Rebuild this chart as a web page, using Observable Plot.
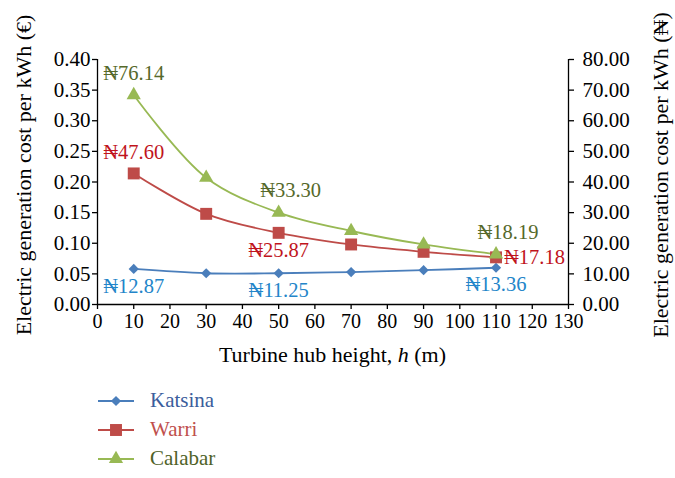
<!DOCTYPE html>
<html>
<head>
<meta charset="utf-8">
<script src="https://cdn.jsdelivr.net/npm/d3@7"></script>
<script src="https://cdn.jsdelivr.net/npm/@observablehq/plot@0.6"></script>
<style>
  body { margin: 0; background: #fff; font-family: "Liberation Serif", serif; }
  #wrap { position: relative; width: 675px; height: 478px; overflow: hidden; }
  #legend { position: absolute; left: 96px; top: 386px; font-size: 21px; }
  .row { display: flex; align-items: center; height: 29px; }
  .row svg { margin-right: 14px; }
</style>
</head>
<body>
<div id="wrap"><div id="chart"></div><div id="legend"></div></div>
<script>
// ---- data ----
const heights = [10, 30, 50, 70, 90, 110];
const katsina = [0.058, 0.051, 0.051, 0.053, 0.056, 0.060];
const warri   = [0.214, 0.148, 0.117, 0.098, 0.086, 0.077];
const calabar = [0.342, 0.207, 0.150, 0.120, 0.098, 0.082];
const seriesNames = ["Katsina", "Warri", "Calabar"];
// naira data labels (x, text)
const katsinaLabelX = [10, 50, 110];
const katsinaLabelText = ["₦12.87", "₦11.25", "₦13.36"];
const warriLabelX = [10, 50, 110];
const warriLabelText = ["₦47.60", "₦25.87", "₦17.18"];
const calabarLabelX = [10, 50, 110];
const calabarLabelText = ["₦76.14", "₦33.30", "₦18.19"];
const leftTicks = [0, 0.05, 0.10, 0.15, 0.20, 0.25, 0.30, 0.35, 0.40];
const rightTicks = [0, 10, 20, 30, 40, 50, 60, 70, 80];
const xTicks = [0, 10, 20, 30, 40, 50, 60, 70, 80, 90, 100, 110, 120, 130];
const euroToAxis = 200; // right axis: 0.40 € ↔ 80 ₦

// ---- styles ----
const lineColors = {Katsina: "#4a7ebb", Warri: "#be4b48", Calabar: "#98b954"};
const labelColors = {Katsina: "#2385c9", Warri: "#c0141c", Calabar: "#56692b"};
const legendTextColors = {Katsina: "#3b5d9c", Warri: "#c0504d", Calabar: "#4f6228"};
const symbols = {Katsina: "diamond2", Warri: "square2", Calabar: "triangle2"};
const radii = {Katsina: 4.6, Warri: 7.6, Calabar: 6.8};

const valuesBy = {Katsina: katsina, Warri: warri, Calabar: calabar};
const rows = seriesNames.flatMap(s => heights.map((h, i) => ({series: s, x: h, y: valuesBy[s][i]})));

function labelRows(s, xs, texts) {
  return xs.map((x, i) => ({series: s, x, y: valuesBy[s][heights.indexOf(x)], text: texts[i]}));
}
const kL = labelRows("Katsina", katsinaLabelX, katsinaLabelText);
const wL = labelRows("Warri", warriLabelX, warriLabelText);
const cL = labelRows("Calabar", calabarLabelX, calabarLabelText);

const marks = [];
for (const s of seriesNames) {
  const d = rows.filter(r => r.series === s);
  marks.push(Plot.line(d, {x: "x", y: "y", stroke: lineColors[s], strokeWidth: 1.8, curve: "catmull-rom"}));
}
for (const s of seriesNames) {
  const d = rows.filter(r => r.series === s);
  marks.push(Plot.dot(d, {x: "x", y: "y", symbol: symbols[s], r: radii[s], fill: lineColors[s], stroke: "none"}));
}
// data labels
const lf = 20.5;
marks.push(Plot.text(kL, {x: "x", y: "y", text: "text", fill: labelColors.Katsina, dy: 17, fontSize: lf}));
marks.push(Plot.text(wL.slice(0, 1), {x: "x", y: "y", text: "text", fill: labelColors.Warri, dy: -21, fontSize: lf}));
marks.push(Plot.text(wL.slice(1, 2), {x: "x", y: "y", text: "text", fill: labelColors.Warri, dy: 18, fontSize: lf}));
marks.push(Plot.text(wL.slice(2, 3), {x: "x", y: "y", text: "text", fill: labelColors.Warri, dx: 8, textAnchor: "start", fontSize: lf}));
marks.push(Plot.text(cL.slice(0, 1), {x: "x", y: "y", text: "text", fill: labelColors.Calabar, dy: -22, fontSize: lf}));
marks.push(Plot.text(cL.slice(1, 3), {x: "x", y: "y", text: "text", fill: labelColors.Calabar, dx: 12, dy: -22, fontSize: lf}));

// axes
marks.push(Plot.ruleX([0], {stroke: "#000", strokeWidth: 1.3}));
marks.push(Plot.ruleX([130], {stroke: "#000", strokeWidth: 1.3}));
marks.push(Plot.ruleY([0], {stroke: "#000", strokeWidth: 1.3}));
marks.push(Plot.axisY({anchor: "left", ticks: leftTicks, tickFormat: d3.format(".2f"), tickSize: 5, tickPadding: 2, label: null, stroke: "#000", strokeWidth: 1.3, fontSize: 21}));
marks.push(Plot.axisY({anchor: "right", ticks: rightTicks.map(v => v / euroToAxis), tickFormat: d => (d * euroToAxis).toFixed(2), tickSize: 5, tickPadding: 9, label: null, stroke: "#000", strokeWidth: 1.3, fontSize: 21}));
marks.push(Plot.axisX({ticks: xTicks, tickFormat: d => String(d), tickSize: 5, tickPadding: 4, label: null, stroke: "#000", strokeWidth: 1.3, fontSize: 20}));
marks.push(Plot.text(["Electric generation cost per kWh (€)"], {frameAnchor: "left", textAnchor: "middle", rotate: -90, dx: -74, dy: -7, fontSize: 22, fill: "#000"}));
marks.push(Plot.text(["Electric generation cost per kWh (₦)"], {frameAnchor: "right", textAnchor: "middle", rotate: -90, dx: 92, dy: -7, fontSize: 22, fill: "#000"}));

const chart = Plot.plot({
  width: 675,
  height: 380,
  marginLeft: 97,
  marginRight: 107,
  marginTop: 59,
  marginBottom: 76,
  x: {domain: [0, 130]},
  y: {domain: [0, 0.40]},
  style: {fontFamily: "Liberation Serif", fontSize: "20px", color: "#000", background: "#fff", overflow: "visible"},
  marks
});
document.getElementById("chart").appendChild(chart);

// x-axis title with italic h
const xt = document.createElement("div");
xt.innerHTML = 'Turbine hub height, <i>h</i> (m)';
Object.assign(xt.style, {position: "absolute", left: "97px", width: "471px", top: "342px", textAlign: "center", fontSize: "22px", color: "#000"});
document.getElementById("wrap").appendChild(xt);

// legend
const leg = document.getElementById("legend");
for (const s of seriesNames) {
  const row = document.createElement("div");
  row.className = "row";
  const sv = d3.create("svg").attr("width", 40).attr("height", 24);
  sv.append("line").attr("x1", 2).attr("x2", 38).attr("y1", 12).attr("y2", 12).attr("stroke", lineColors[s]).attr("stroke-width", 1.8);
  const typ = {Katsina: d3.symbolDiamond2, Warri: d3.symbolSquare2, Calabar: d3.symbolTriangle2}[s];
  sv.append("path").attr("d", d3.symbol(typ, Math.PI * radii[s] * radii[s])()).attr("transform", "translate(20,12)").attr("fill", lineColors[s]);
  row.appendChild(sv.node());
  const t = document.createElement("span");
  t.textContent = s;
  t.style.color = legendTextColors[s];
  row.appendChild(t);
  leg.appendChild(row);
}
</script>
</body>
</html>
